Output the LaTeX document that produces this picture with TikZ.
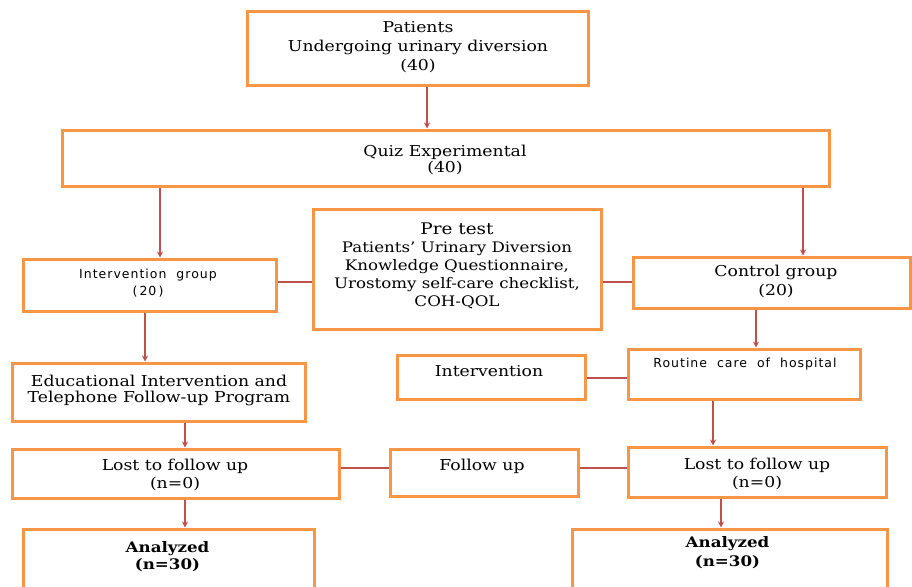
\documentclass[tikz,border=0pt]{standalone}
\usepackage{fontspec}
\setmainfont[FakeStretch=1.15]{DejaVu Serif}
\newfontfamily\sansf[LetterSpace=8]{DejaVu Sans}
\usetikzlibrary{arrows.meta,fit}
\definecolor{boxc}{HTML}{F79646}
\definecolor{arrc}{HTML}{C0504D}
\tikzset{
  box/.style={draw=boxc, line width=3pt, inner sep=0pt},
  conn/.style={draw=arrc, line width=1.2pt},
  arr/.style={conn, -{Stealth[length=6pt,width=6pt]}},
  txt/.style={align=center, inner sep=0pt, font=\fontsize{15}{18}\selectfont},
  stxt/.style={align=center, inner sep=0pt, font=\sansf\fontsize{12.5}{17}\selectfont},
}
\begin{document}
\begin{tikzpicture}[x=1pt,y=-1pt]
\useasboundingbox (0,0) rectangle (912,586);
% boxes
\node[box, fit={(247,12) (588,85)}] (top) {};
\node[box, fit={(62,130) (829,186)}] (quiz) {};
\node[box, fit={(23,259) (276,311)}] (intgrp) {};
\node[box, fit={(313,209) (601,329)}] (pre) {};
\node[box, fit={(633,257) (910,308)}] (ctrl) {};
\node[box, fit={(12,363) (305,421)}] (edu) {};
\node[box, fit={(397,355) (585,399)}] (intr) {};
\node[box, fit={(628,349) (860,399)}] (rout) {};
\node[box, fit={(12,449) (339,498)}] (lostl) {};
\node[box, fit={(390,449) (578,496)}] (fol) {};
\node[box, fit={(628,447) (886,497)}] (lostr) {};
\node[box, fit={(23,529) (314,600)}] (anl) {};
\node[box, fit={(572,529) (887,600)}] (anr) {};
% texts
\node[txt, font=\fontsize{15}{19}\selectfont] (ttop) at (418,47) {Patients\\Undergoing urinary diversion\\(40)};
\node[txt, font=\fontsize{15}{16}\selectfont] (tquiz) at (445,160) {Quiz Experimental\\(40)};
\node[stxt] (tint) at (148,283.5) {Intervention\ \ group\\(\,20\,)};
\node[txt, font=\fontsize{14.5}{18}\selectfont] (tpre) at (457,265.5) {{\fontsize{16}{18}\selectfont Pre test}\\Patients' Urinary Diversion\\Knowledge Questionnaire,\\Urostomy self-care checklist,\\COH-QOL};
\node[txt, font=\fontsize{15}{19}\selectfont] (tctrl) at (776,281.5) {Control group\\(20)};
\node[txt, font=\fontsize{15}{16}\selectfont] (tedu) at (159,390) {Educational Intervention and\\Telephone Follow-up Program};
\node[txt] (tintr) at (489,371) {Intervention};
\node[stxt] (trout) at (745,364) {Routine\ \ care\ \ of\ \ hospital};
\node[txt] (tlostl) at (175,475) {Lost to follow up\\(n=0)};
\node[txt] (tfol) at (482,466) {Follow up};
\node[txt] (tlostr) at (757,473.5) {Lost to follow up\\(n=0)};
\node[txt, font=\bfseries\fontsize{14.5}{17}\selectfont] (tanl) at (167.5,556.5) {Analyzed\\(n=30)};
\node[txt, font=\bfseries\fontsize{14.5}{19}\selectfont] (tanr) at (727.5,552.5) {Analyzed\\(n=30)};
% x positions of vertical connectors
\coordinate (xa) at (427,0);
\coordinate (xb) at (160,0);
\coordinate (xc) at (803,0);
\coordinate (xd) at (145,0);
\coordinate (xe) at (756,0);
\coordinate (xf) at (185,0);
\coordinate (xg) at (713,0);
\coordinate (xh) at (721,0);
% y positions of horizontal connectors
\coordinate (ya) at (0,282);
\coordinate (yb) at (0,378);
\coordinate (yc) at (0,468);
% connectors
\draw[arr] (top.south -| xa) -- (quiz.north -| xa);
\draw[arr] (quiz.south -| xb) -- (intgrp.north -| xb);
\draw[arr] (quiz.south -| xc) -- (ctrl.north -| xc);
\draw[conn] (intgrp.east |- ya) -- (pre.west |- ya);
\draw[conn] (pre.east |- ya) -- (ctrl.west |- ya);
\draw[arr] (intgrp.south -| xd) -- (edu.north -| xd);
\draw[arr] (ctrl.south -| xe) -- (rout.north -| xe);
\draw[conn] (intr.east |- yb) -- (rout.west |- yb);
\draw[arr] (edu.south -| xf) -- (lostl.north -| xf);
\draw[arr] (rout.south -| xg) -- (lostr.north -| xg);
\draw[conn] (lostl.east |- yc) -- (fol.west |- yc);
\draw[conn] (fol.east |- yc) -- (lostr.west |- yc);
\draw[arr] (lostl.south -| xf) -- (anl.north -| xf);
\draw[arr] (lostr.south -| xh) -- (anr.north -| xh);
\end{tikzpicture}
\end{document}
